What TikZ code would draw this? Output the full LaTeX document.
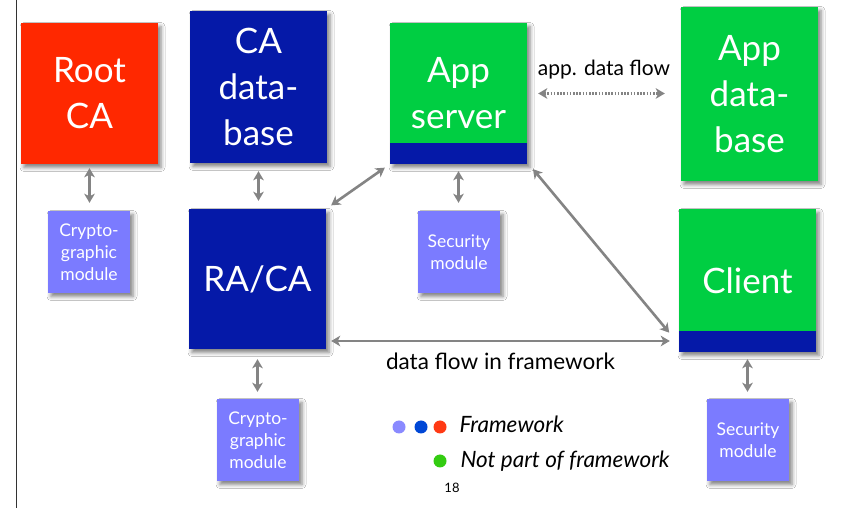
\documentclass[tikz,border=0pt]{standalone}
\usepackage{fontspec}
\setmainfont{Lato}
\usetikzlibrary{arrows.meta,shadows.blur}

\definecolor{rootred}{RGB}{255,40,0}
\definecolor{fwblue}{RGB}{5,25,168}
\definecolor{appgreen}{RGB}{0,206,66}
\definecolor{modlilac}{RGB}{123,123,255}
\definecolor{linkgray}{RGB}{132,132,132}
\definecolor{dotlilac}{RGB}{138,138,255}
\definecolor{dotblue}{RGB}{0,71,214}
\definecolor{dotred}{RGB}{255,58,20}
\definecolor{dotgreen}{RGB}{51,204,17}

\tikzset{
  boxshadow/.style={blur shadow={shadow xshift=3pt,shadow yshift=-3.5pt,shadow blur radius=4pt,shadow opacity=50}},
  bigbox/.style={rectangle,inner sep=0pt,minimum width=137pt,text=white,align=center,
    font=\fontsize{35}{46}\selectfont,boxshadow},
  modbox/.style={rectangle,inner sep=0pt,minimum width=82pt,minimum height=82pt,fill=modlilac,
    text=white,align=center,font=\fontsize{17.5}{22}\selectfont,boxshadow},
  tip/.tip={Stealth[length=9pt,width=10.5pt,inset=2.5pt]},
  link/.style={draw=linkgray,line width=2.6pt,tip-tip},
  flowlabel/.style={font=\fontsize{22.5}{26}\selectfont,anchor=base},
  legendtext/.style={font=\fontsize{22.5}{26}\itshape,anchor=base west},
  legenddot/.style={circle,inner sep=0pt,minimum size=13pt}
}

\begin{document}
\begin{tikzpicture}[x=1pt,y=1pt]
  \useasboundingbox (0,0) rectangle (843,508);
  \fill[white] (0,0) rectangle (843,508);
  \draw[line width=1pt,black!80] (16,0) -- (16,508);

  % main components
  \node[bigbox,fill=rootred,minimum height=141pt] (rootca) at (89.5,414.5) {Root\\CA};
  \node[bigbox,fill=fwblue,minimum height=152pt] (cadb) at (258.5,421) {CA\\data-\\base};
  \node[bigbox,fill=appgreen,minimum height=141pt] (appsrv) at (458.5,414.5) {App\\server};
  \node[bigbox,fill=appgreen,minimum height=174pt] (appdb) at (749.5,414) {App\\data-\\base};
  \node[bigbox,fill=fwblue,minimum height=140pt] (raca) at (257.5,229) {RA/CA};
  \node[bigbox,fill=appgreen,minimum height=143pt] (client) at (747.5,227.5) {Client};

  % framework part built into the application components
  \fill[fwblue] (appsrv.south west) rectangle ([yshift=21pt]appsrv.south east);
  \fill[fwblue] (client.south west) rectangle ([yshift=21pt]client.south east);

  % hardware modules
  \node[modbox] (crypto1) at (89,256) {Crypto-\\graphic\\module};
  \node[modbox] (sec1) at (459,256) {Security\\module};
  \node[modbox] (crypto2) at (258,68) {Crypto-\\graphic\\module};
  \node[modbox] (sec2) at (748,68) {Security\\module};

  % connections
  \draw[link,shorten <=4pt,shorten >=8pt] (rootca.south) -- (rootca.south |- crypto1.north);
  \draw[link,shorten <=8pt,shorten >=8pt] (cadb.south) -- (cadb.south |- raca.north);
  \draw[link,shorten <=7pt,shorten >=8pt] (appsrv.south) -- (appsrv.south |- sec1.north);
  \draw[link,shorten <=10pt,shorten >=7pt] (raca.south) -- (raca.south |- crypto2.north);
  \draw[link,shorten <=7pt,shorten >=7pt] (client.south) -- (client.south |- sec2.north);
  \draw[link,shorten <=6pt,shorten >=6pt] (raca.north east) -- (appsrv.south west);
  \draw[link,shorten <=9pt,shorten >=15pt] ([yshift=2pt]appsrv.south east) -- ([yshift=8pt]client.south west);
  \coordinate (flowL) at ([yshift=-62pt]raca.east);
  \draw[link,shorten <=5pt,shorten >=9pt] (flowL) -- (flowL -| client.west);
  \draw[draw=linkgray,line width=2.4pt,dash pattern=on 1.6pt off 1.6pt,tip-tip,
        shorten <=11pt,shorten >=16pt] (appsrv.east) -- (appsrv.east -| appdb.west);

  % flow labels
  \node[flowlabel,font=\fontsize{21}{25}\selectfont] (applbl) at (604,432) {app. data flow};
  \node[flowlabel] (fwlbl) at (500.5,138) {data flow in framework};

  % legend
  \node[legenddot,fill=dotlilac] (d1) at (399,81) {};
  \node[legenddot,fill=dotblue] (d2) at (421,81) {};
  \node[legenddot,fill=dotred] (d3) at (440,81) {};
  \node[legenddot,fill=dotgreen] (d4) at (440,47) {};
  \node[legendtext] (fw) at (456,75) {Framework};
  \node[legendtext] (nfw) at (457,40) {Not part of framework};

  % page number
  \node[font=\fontsize{13}{15}\selectfont,anchor=base] (pg) at (452,15) {18};
\end{tikzpicture}
\end{document}
